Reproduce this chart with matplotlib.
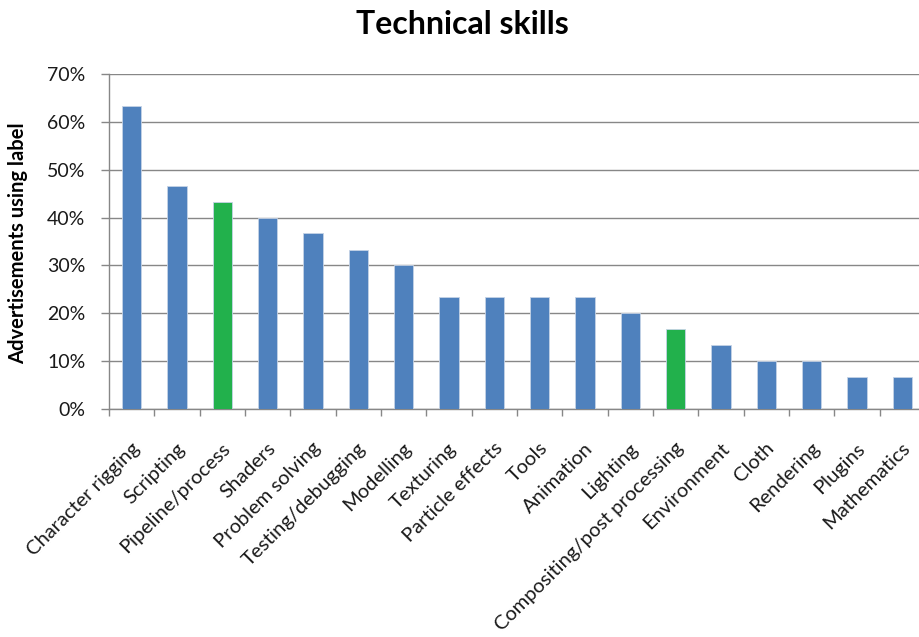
import matplotlib.pyplot as plt
import numpy as np
from matplotlib.ticker import PercentFormatter

skills = ["Character rigging", "Scripting", "Pipeline/process", "Shaders",
          "Problem solving", "Testing/debugging", "Modelling", "Texturing",
          "Particle effects", "Tools", "Animation", "Lighting",
          "Compositing/post processing", "Environment", "Cloth", "Rendering",
          "Plugins", "Mathematics"]
share = [63.3, 46.7, 43.3, 40.0, 36.7, 33.3, 30.0, 23.3, 23.3, 23.3, 23.3,
         20.0, 16.7, 13.3, 10.0, 10.0, 6.7, 6.7]
highlight = ["Pipeline/process", "Compositing/post processing"]

plt.rcParams['font.family'] = ['Lato', 'DejaVu Sans']

blue = "#4F81BD"
green = "#22B14C"
grid_col = "#878787"
colors = [green if s in highlight else blue for s in skills]

fig = plt.figure(figsize=(9.2, 6.37), dpi=100)
ax = fig.add_axes([109 / 920, 228 / 637, 816 / 920, 335 / 637])

x = np.arange(len(skills))
ax.bar(x, share, width=0.42, color=colors, edgecolor="#c5d3e6", linewidth=0.6, zorder=3)

ax.set_xlim(-0.5, len(skills) - 0.5)
ax.set_ylim(0, 70)
ax.set_yticks(np.arange(0, 71, 10))
ax.yaxis.set_major_formatter(PercentFormatter(decimals=0))
ax.yaxis.grid(True, color=grid_col, linewidth=1.0, zorder=0)

# category boundaries get the tick marks, labels sit under the bars
ax.set_xticks(np.arange(len(skills) + 1) - 0.5)
ax.set_xticklabels([])
ax.set_xticks(x - 0.02, minor=True)
ax.set_xticklabels(skills, minor=True, rotation=45, ha="right",
                   rotation_mode="anchor", fontsize=14.5, color="#1a1a1a")
ax.tick_params(axis="x", which="minor", length=0, pad=22)
ax.tick_params(axis="x", which="major", length=5, color=grid_col, width=1)
ax.tick_params(axis="y", length=6, color=grid_col, width=1, labelsize=14,
               labelcolor="#1a1a1a", pad=11)

for side in ["top", "right"]:
    ax.spines[side].set_visible(False)
for side in ["left", "bottom"]:
    ax.spines[side].set_color(grid_col)
    ax.spines[side].set_linewidth(1.0)

fig.text(18 / 920, 1 - 243 / 637, "Advertisements using label", rotation=90,
         ha="center", va="center", fontsize=14.5, fontweight="bold")
fig.text(462 / 920, 1 - 25 / 637, "Technical skills", ha="center", va="center",
         fontsize=23, fontweight="bold")

fig.savefig("out.png", dpi=100)
